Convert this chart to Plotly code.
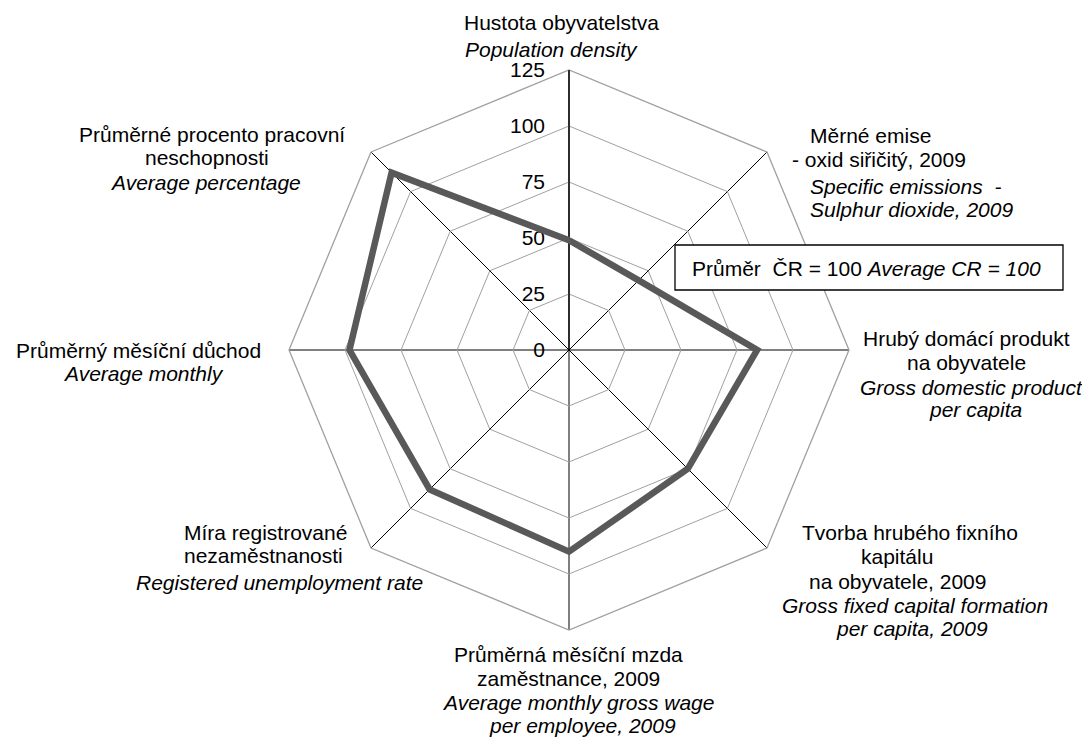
import plotly.graph_objects as go

# ---- data ----
categories = [
    "Hustota obyvatelstva",
    "Měrné emise - oxid siřičitý, 2009",
    "Hrubý domácí produkt na obyvatele",
    "Tvorba hrubého fixního kapitálu na obyvatele, 2009",
    "Průměrná měsíční mzda zaměstnance, 2009",
    "Míra registrované nezaměstnanosti",
    "Průměrný měsíční důchod",
    "Průměrné procento pracovní neschopnosti",
]
values = [49, 44, 84, 75, 90, 88, 98, 112]
radial_ticks = [0, 25, 50, 75, 100, 125]

label_lines = [
    ["Hustota obyvatelstva", "<i>Population density</i>"],
    ["Měrné emise", "- oxid siřičitý, 2009", "<i>Specific emissions  -</i>", "<i>Sulphur dioxide, 2009</i>"],
    ["Hrubý domácí produkt", "na obyvatele", "<i>Gross domestic product</i>", "<i>per capita</i>"],
    ["Tvorba hrubého fixního", "kapitálu", "na obyvatele, 2009", "<i>Gross fixed capital formation</i>", "<i>per capita, 2009</i>"],
    ["Průměrná měsíční mzda", "zaměstnance, 2009", "<i>Average monthly gross wage</i>", "<i>per employee, 2009</i>"],
    ["Míra registrované", "nezaměstnanosti", "<i>Registered unemployment rate</i>"],
    ["Průměrný měsíční důchod", "<i>Average monthly</i>"],
    ["Průměrné procento pracovní", "neschopnosti", "<i>Average percentage</i>"],
]
box_text = "Průměr  ČR = 100 <i>Average CR = 100</i>"

# ---- layout helpers ----
# the page body has an 8px margin, so the figure starts at (8, 8) in the window
OX, OY = 8, 8
W, H = 1082, 730
FONT = "Liberation Sans, Arial, sans-serif"
FS = 21


def px(x):
    return (x - OX) / W


def py(y):
    return 1 - (y - OY) / H


# line positions (window pixel x, pixel y, xanchor) per label block
label_pos = [
    [(561, 23, "center"), (551, 50, "center")],
    [(808, 135, "left"), (790, 159, "left"), (808, 186, "left"), (808, 209, "left")],
    [(966, 338, "center"), (966, 362, "center"), (971, 387, "center"), (975, 410, "center")],
    [(910, 532, "center"), (897, 556, "center"), (897, 581, "center"), (915, 605, "center"), (912, 628, "center")],
    [(568, 654, "center"), (568, 678, "center"), (578, 702, "center"), (582, 725, "center")],
    [(182, 532, "left"), (182, 555, "left"), (425, 582, "right")],
    [(138, 350, "center"), (143, 373, "center")],
    [(212, 134, "center"), (207, 158, "center"), (205, 183, "center")],
]

cx, cy, R = 569, 350, 280

fig = go.Figure()
fig.add_trace(go.Scatterpolar(
    r=values + values[:1],
    theta=categories + categories[:1],
    mode="lines",
    line=dict(color="#595959", width=6.5),
    showlegend=False,
    hoverinfo="skip",
))

annotations = []
for lines, poss in zip(label_lines, label_pos):
    for t, (x, y, anc) in zip(lines, poss):
        annotations.append(dict(
            text=t, x=px(x), y=py(y), xref="paper", yref="paper",
            xanchor=anc, yanchor="middle", showarrow=False,
            font=dict(family=FONT, size=FS, color="black"),
        ))
annotations.append(dict(
    text=box_text, x=px(866), y=py(268), xref="paper", yref="paper",
    xanchor="center", yanchor="middle", showarrow=False,
    font=dict(family=FONT, size=FS, color="black"),
))

fig.update_layout(
    width=W, height=H,
    margin=dict(l=0, r=0, t=0, b=0),
    paper_bgcolor="white",
    plot_bgcolor="white",
    font=dict(family=FONT, size=FS, color="black"),
    polar=dict(
        domain=dict(x=[px(cx - R), px(cx + R)], y=[py(cy + R), py(cy - R)]),
        gridshape="linear",
        bgcolor="white",
        radialaxis=dict(
            range=[0, 125],
            tickvals=radial_ticks,
            ticktext=[str(v) for v in radial_ticks],
            angle=90,
            tickangle=90,
            side="counterclockwise",
            showline=True,
            linecolor="black",
            linewidth=1.3,
            gridcolor="#A0A0A0",
            gridwidth=1.3,
            ticks="outside",
            ticklen=16,
            tickcolor="rgba(0,0,0,0)",
            tickfont=dict(family=FONT, size=FS, color="black"),
            layer="below traces",
        ),
        angularaxis=dict(
            direction="clockwise",
            rotation=90,
            showline=True,
            linecolor="#A0A0A0",
            linewidth=1.3,
            gridcolor="black",
            gridwidth=1.3,
            showticklabels=False,
            ticks="",
            layer="below traces",
        ),
    ),
    shapes=[dict(
        type="rect", xref="paper", yref="paper",
        x0=px(675), x1=px(1063), y0=py(290), y1=py(245),
        line=dict(color="black", width=1.3), fillcolor="white", layer="above",
    )],
    annotations=annotations,
)

fig.write_html("out.html")
